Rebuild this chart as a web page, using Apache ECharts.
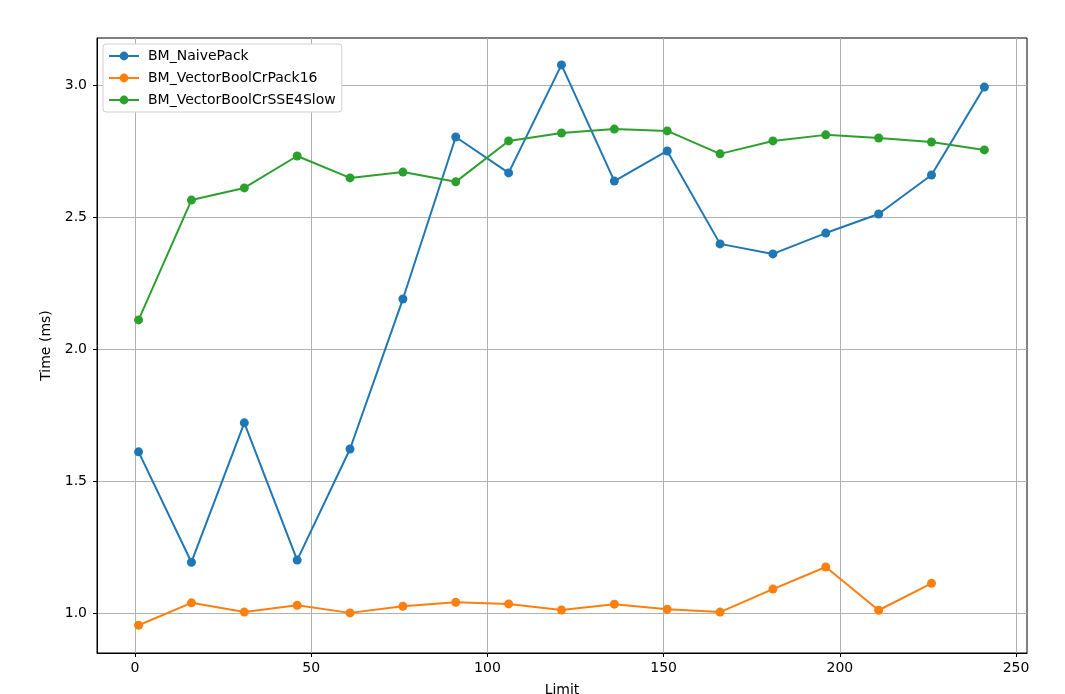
<!DOCTYPE html>
<html>
<head>
<meta charset="utf-8">
<script src="https://cdn.jsdelivr.net/npm/echarts@6/dist/echarts.min.js"></script>
<style>
  html, body { margin: 0; padding: 0; background: #fff; }
  #chart { width: 1065px; height: 694px; }
</style>
</head>
<body>
<div id="chart"></div>
<script>
// benchmark limits (x) and timings in ms (y)
const limits = [1, 16, 31, 46, 61, 76, 91, 106, 121, 136, 151, 166, 181, 196, 211, 226, 241]
const naivePack = [1.610, 1.192, 1.720, 1.200, 1.621, 2.189, 2.803, 2.667, 3.076, 2.636, 2.750, 2.398, 2.360, 2.439, 2.511, 2.659, 2.992]
const vectorPack16 = [0.953, 1.038, 1.003, 1.029, 1.000, 1.025, 1.040, 1.034, 1.011, 1.033, 1.014, 1.003, 1.090, 1.174, 1.010, 1.112]
const sse4Slow = [2.110, 2.564, 2.610, 2.731, 2.648, 2.670, 2.633, 2.788, 2.818, 2.833, 2.826, 2.739, 2.788, 2.811, 2.799, 2.784, 2.754]
const xTicks = [0, 50, 100, 150, 200, 250]
const yTicks = [1.0, 1.5, 2.0, 2.5, 3.0]

const toPairs = (vals) => vals.map((v, i) => [limits[i], v])

const chart = echarts.init(document.getElementById('chart'))

const font = 'DejaVu Sans'
const axisCommon = {
  axisLine: { show: true, onZero: false, lineStyle: { color: '#000', width: 1 } },
  axisTick: { show: true, length: 4, lineStyle: { color: '#000' } },
  splitLine: { show: true, lineStyle: { color: '#b0b0b0', width: 1 } },
  nameTextStyle: { color: '#000', fontSize: 14, fontFamily: font }
}

const makeSeries = (name, color, vals) => ({
  name,
  type: 'line',
  data: toPairs(vals),
  symbol: 'circle',
  symbolSize: 9,
  showAllSymbol: true,
  lineStyle: { color, width: 2 },
  itemStyle: { color },
  emphasis: { disabled: true }
})

chart.setOption({
  animation: false,
  grid: {
    left: 97, right: 38, top: 38, bottom: 41,
    outerBoundsMode: 'none',
    containLabel: false,
    show: true, borderColor: '#000', borderWidth: 1, backgroundColor: '#fff'
  },
  legend: {
    orient: 'vertical',
    left: 103, top: 44,
    padding: [5, 6, 5, 5],
    itemGap: 8,
    itemWidth: 30,
    itemHeight: 11,
    backgroundColor: '#fff',
    borderColor: '#d0d0d0',
    borderWidth: 1,
    borderRadius: 3,
    textStyle: { color: '#000', fontSize: 14, fontFamily: font, padding: [0, 0, 0, 4] },
    data: ['BM_NaivePack', 'BM_VectorBoolCrPack16', 'BM_VectorBoolCrSSE4Slow']
  },
  xAxis: {
    type: 'value',
    min: -10.8,
    max: 253.1,
    name: 'Limit',
    nameLocation: 'middle',
    nameGap: 30,
    ...axisCommon,
    axisTick: { ...axisCommon.axisTick, customValues: xTicks },
    axisLabel: { customValues: xTicks, color: '#000', fontSize: 14, fontFamily: font, margin: 8 }
  },
  yAxis: {
    type: 'value',
    min: 0.848,
    max: 3.178,
    name: 'Time (ms)',
    nameLocation: 'middle',
    nameGap: 39,
    ...axisCommon,
    axisTick: { ...axisCommon.axisTick, customValues: yTicks },
    axisLabel: {
      customValues: yTicks, color: '#000', fontSize: 14, fontFamily: font, margin: 10,
      formatter: (v) => v.toFixed(1)
    }
  },
  series: [
    makeSeries('BM_NaivePack', '#1f77b4', naivePack),
    makeSeries('BM_VectorBoolCrPack16', '#ff7f0e', vectorPack16),
    makeSeries('BM_VectorBoolCrSSE4Slow', '#2ca02c', sse4Slow)
  ]
})
</script>
</body>
</html>
